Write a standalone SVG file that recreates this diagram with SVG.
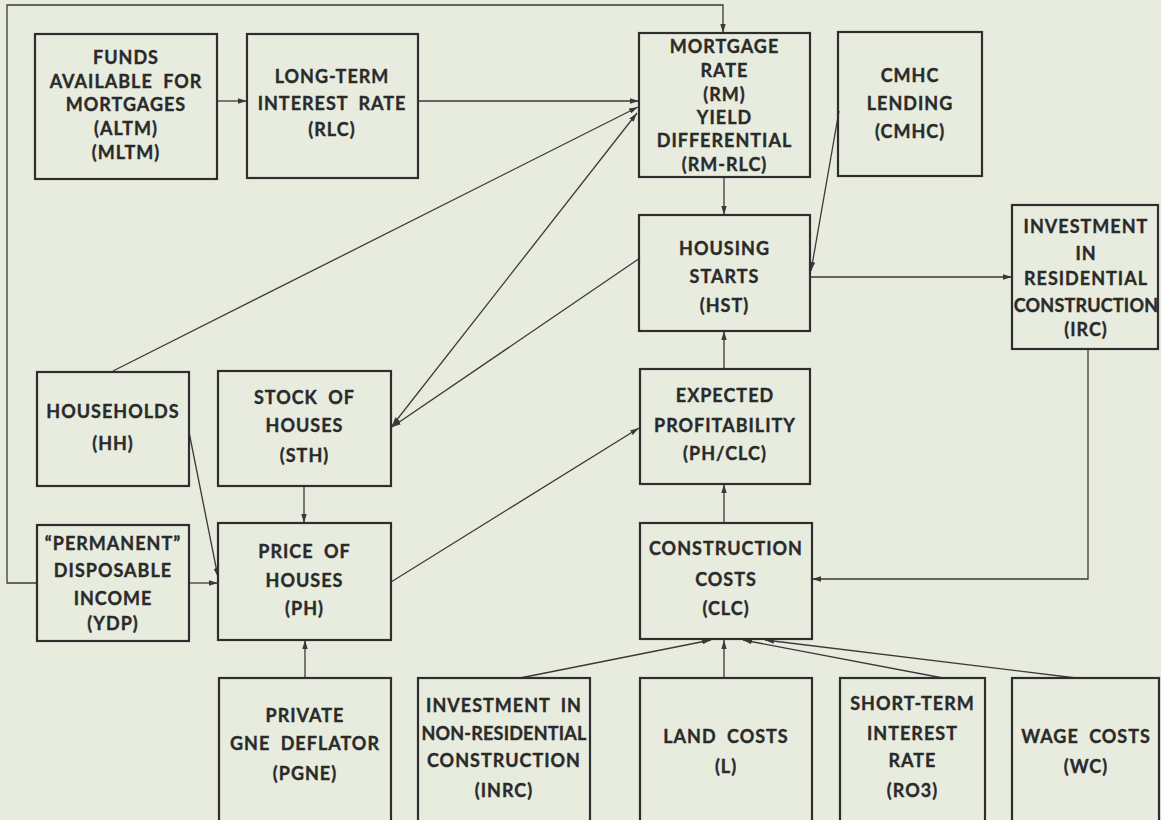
<svg xmlns="http://www.w3.org/2000/svg" width="1161" height="820" viewBox="0 0 1161 820">
<defs>
<marker id="ah" viewBox="0 0 10 6" refX="10" refY="3" markerWidth="9" markerHeight="5.5" markerUnits="userSpaceOnUse" orient="auto-start-reverse">
<path d="M0,0 L10,3 L0,6 Z" fill="#3a3a3a"/>
</marker>
<style>
.bx{fill:none;stroke:#2e2e2e;stroke-width:2.2}
.t{font-family:Lato,"Open Sans","Liberation Sans",sans-serif;font-weight:700;font-size:18px;fill:#2a2a2a;stroke:#2a2a2a;stroke-width:0.35;text-anchor:middle;letter-spacing:1px;word-spacing:5px}
.n{letter-spacing:0.2px}
.c{fill:none;stroke:#3a3a3a;stroke-width:1.3}
.a{marker-end:url(#ah)}
.b{marker-start:url(#ah);marker-end:url(#ah)}
</style>
</defs>
<rect x="0" y="0" width="1161" height="820" fill="#e7ecdf"/>

<g id="connectors">
<path class="c a" d="M217,101 H247"/>
<path class="c a" d="M418,101 H639"/>
<path class="c a" d="M113,371 L638,107"/>
<path class="c b" d="M392,426 L637,113"/>
<path class="c a" d="M640,258 L392,427"/>
<path class="c a" d="M724,177 V215"/>
<path class="c a" d="M839,111 L811,271"/>
<path class="c a" d="M810,277 H1012"/>
<path class="c a" d="M1088,349 V579 H812"/>
<path class="c a" d="M724,369 V331"/>
<path class="c a" d="M724,523 V484"/>
<path class="c a" d="M391,582 L639,428"/>
<path class="c a" d="M304,486 V523"/>
<path class="c a" d="M189,432 L218,577"/>
<path class="c a" d="M189,583 H218"/>
<path class="c a" d="M305,678 V640"/>
<path class="c a" d="M520,678 L711,640"/>
<path class="c a" d="M724,678 V640"/>
<path class="c a" d="M943,678 L743,640"/>
<path class="c a" d="M1076,678 L765,640"/>
<path class="c a" d="M37,583 H7 V5 H723 V33"/>
</g>

<g id="ALTM">
<rect class="bx" x="35" y="34" width="182" height="145"/>
<text class="t" x="126" y="64">FUNDS</text>
<text class="t" x="126" y="88">AVAILABLE FOR</text>
<text class="t" x="126" y="111">MORTGAGES</text>
<text class="t" x="126" y="135">(ALTM)</text>
<text class="t" x="126" y="159">(MLTM)</text>
</g>
<g id="RLC">
<rect class="bx" x="247" y="34" width="171" height="144"/>
<text class="t" x="332" y="83">LONG-TERM</text>
<text class="t" x="332" y="110">INTEREST RATE</text>
<text class="t" x="332" y="136">(RLC)</text>
</g>
<g id="RM">
<rect class="bx" x="639" y="33" width="171" height="144"/>
<text class="t" x="724.5" y="53">MORTGAGE</text>
<text class="t" x="724.5" y="77">RATE</text>
<text class="t" x="724.5" y="101">(RM)</text>
<text class="t" x="724.5" y="124">YIELD</text>
<text class="t" x="724.5" y="147">DIFFERENTIAL</text>
<text class="t" x="724.5" y="171">(RM-RLC)</text>
</g>
<g id="CMHC">
<rect class="bx" x="838" y="32" width="144" height="144"/>
<text class="t" x="910" y="82">CMHC</text>
<text class="t" x="910" y="110">LENDING</text>
<text class="t" x="910" y="138">(CMHC)</text>
</g>
<g id="HST">
<rect class="bx" x="639" y="215" width="171" height="116"/>
<text class="t" x="724.5" y="255">HOUSING</text>
<text class="t" x="724.5" y="283">STARTS</text>
<text class="t" x="724.5" y="312">(HST)</text>
</g>
<g id="IRC">
<rect class="bx" x="1012" y="205" width="146" height="144"/>
<text class="t" x="1086" y="233">INVESTMENT</text>
<text class="t" x="1086" y="260">IN</text>
<text class="t" x="1086" y="285">RESIDENTIAL</text>
<text class="t n" x="1086" y="312">CONSTRUCTION</text>
<text class="t" x="1086" y="336">(IRC)</text>
</g>
<g id="HH">
<rect class="bx" x="37" y="372" width="152" height="114"/>
<text class="t" x="113" y="418">HOUSEHOLDS</text>
<text class="t" x="113" y="450">(HH)</text>
</g>
<g id="STH">
<rect class="bx" x="218" y="371" width="173" height="115"/>
<text class="t" x="304.5" y="404">STOCK OF</text>
<text class="t" x="304.5" y="432">HOUSES</text>
<text class="t" x="304.5" y="462">(STH)</text>
</g>
<g id="EP">
<rect class="bx" x="640" y="369" width="170" height="115"/>
<text class="t" x="725" y="402">EXPECTED</text>
<text class="t" x="725" y="432">PROFITABILITY</text>
<text class="t" x="725" y="460">(PH/CLC)</text>
</g>
<g id="YDP">
<rect class="bx" x="37" y="525" width="152" height="116"/>
<text class="t" x="113" y="550">“PERMANENT”</text>
<text class="t" x="113" y="577">DISPOSABLE</text>
<text class="t" x="113" y="605">INCOME</text>
<text class="t" x="113" y="630">(YDP)</text>
</g>
<g id="PH">
<rect class="bx" x="218" y="523" width="173" height="117"/>
<text class="t" x="304.5" y="558">PRICE OF</text>
<text class="t" x="304.5" y="587">HOUSES</text>
<text class="t" x="304.5" y="615">(PH)</text>
</g>
<g id="CLC">
<rect class="bx" x="640" y="523" width="172" height="116"/>
<text class="t" x="726" y="555">CONSTRUCTION</text>
<text class="t" x="726" y="586">COSTS</text>
<text class="t" x="726" y="615">(CLC)</text>
</g>
<g id="PGNE">
<rect class="bx" x="219" y="678" width="172" height="160"/>
<text class="t" x="305" y="722">PRIVATE</text>
<text class="t" x="305" y="750">GNE DEFLATOR</text>
<text class="t" x="305" y="780">(PGNE)</text>
</g>
<g id="INRC">
<rect class="bx" x="418" y="678" width="172" height="160"/>
<text class="t" x="504" y="712">INVESTMENT IN</text>
<text class="t n" x="504" y="740">NON-RESIDENTIAL</text>
<text class="t" x="504" y="767">CONSTRUCTION</text>
<text class="t" x="504" y="797">(INRC)</text>
</g>
<g id="L">
<rect class="bx" x="640" y="678" width="172" height="160"/>
<text class="t" x="726" y="743">LAND COSTS</text>
<text class="t" x="726" y="773">(L)</text>
</g>
<g id="RO3">
<rect class="bx" x="840" y="678" width="145" height="160"/>
<text class="t" x="912.5" y="710">SHORT-TERM</text>
<text class="t" x="912.5" y="740">INTEREST</text>
<text class="t" x="912.5" y="767">RATE</text>
<text class="t" x="912.5" y="797">(RO3)</text>
</g>
<g id="WC">
<rect class="bx" x="1012" y="678" width="147" height="160"/>
<text class="t" x="1086" y="743">WAGE COSTS</text>
<text class="t" x="1086" y="773">(WC)</text>
</g>
</svg>
